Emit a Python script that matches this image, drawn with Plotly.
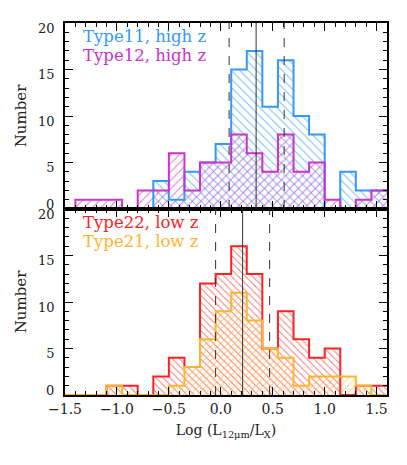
import plotly.graph_objects as go
from plotly.subplots import make_subplots

# bin edges (width 0.15)
bin_edges = [-1.55, -1.4, -1.25, -1.1, -0.95, -0.8, -0.65, -0.5, -0.35, -0.2, -0.05,
             0.1, 0.25, 0.4, 0.55, 0.7, 0.85, 1.0, 1.15, 1.3, 1.45, 1.6]

type11_high = [0, 0, 0, 0, 0, 0, 3, 1, 4, 5, 7, 15, 17, 11, 16, 10, 8, 0, 4, 2, 2]
type12_high = [0, 1, 1, 1, 0, 2, 2, 6, 2, 5, 5, 8, 6, 4, 8, 4, 5, 1, 0, 1, 2]
type22_low = [0, 0, 0, 1, 1, 0, 2, 4, 3, 12, 13, 16, 13, 5, 9, 6, 4, 5, 0, 1, 1]
type21_low = [0, 0, 0, 1, 0, 0, 0, 1, 3, 6, 9, 11, 8, 5, 4, 1, 2, 2, 2, 1, 0]

# median (solid) and spread (dashed) lines
high_lines = [0.08, 0.34, 0.61]
low_lines = [-0.05, 0.21, 0.47]

labels_high = ["Type11, high z", "Type12, high z"]
labels_low = ["Type22, low z", "Type21, low z"]

y_tickvals = [0, 5, 10, 15, 20]
y_ticktext = ["", "5", "10", "15", "20"]
y_zero_label = "0"

BLUE = "#3399ff"
MAGENTA = "#cc33cc"
RED = "#ff2222"
ORANGE = "#ffb52e"

FONT = "DejaVu Serif"
TXT = "#222222"

centers = [(bin_edges[i] + bin_edges[i + 1]) / 2 for i in range(len(bin_edges) - 1)]
width = bin_edges[1] - bin_edges[0]

fig = make_subplots(rows=2, cols=1, shared_xaxes=True, vertical_spacing=0)


def add_hist(counts, color, shape, row, psize):
    fig.add_trace(go.Bar(
        x=centers, y=counts, width=width,
        marker=dict(color=color, line=dict(width=0),
                    pattern=dict(shape=shape, fgcolor=color, bgcolor="rgba(0,0,0,0)",
                                 size=psize, solidity=0.18, fgopacity=0.65)),
        showlegend=False, hoverinfo="skip"), row=row, col=1)


def add_step(counts, color, row):
    xs = list(bin_edges[:-1]) + [bin_edges[-1]]
    ys = list(counts) + [counts[-1]]
    fig.add_trace(go.Scatter(x=xs, y=ys, mode="lines", line_shape="hv",
                             line=dict(color=color, width=2),
                             showlegend=False, hoverinfo="skip"), row=row, col=1)


add_hist(type11_high, BLUE, "\\", 1, 6)
add_hist(type12_high, MAGENTA, "/", 1, 6)
add_hist(type22_low, RED, "\\", 2, 5)
add_hist(type21_low, ORANGE, "/", 2, 5)
add_step(type11_high, BLUE, 1)
add_step(type12_high, MAGENTA, 1)
add_step(type22_low, RED, 2)
add_step(type21_low, ORANGE, 2)

for row, vals in ((1, high_lines), (2, low_lines)):
    for i, v in enumerate(vals):
        fig.add_vline(x=v, row=row, col=1, line_color="#333333", line_width=1,
                      line_dash="solid" if i == 1 else "dash")

# legend texts
for row, labs, cols in ((1, labels_high, (BLUE, MAGENTA)), (2, labels_low, (RED, ORANGE))):
    yref = "y domain" if row == 1 else "y2 domain"
    xref = "x domain" if row == 1 else "x2 domain"
    for j, (lab, c) in enumerate(zip(labs, cols)):
        fig.add_annotation(text=lab, xref=xref, yref=yref, x=0.05, y=0.925 - j * 0.1,
                           xanchor="left", yanchor="middle", showarrow=False,
                           font=dict(family=FONT, size=16.5, color=c))

# zero labels of each panel (drawn slightly above their tick, like the original)
for yref in ("y", "y2"):
    fig.add_annotation(text=y_zero_label, xref="paper", yref=yref, x=0, y=0,
                       xanchor="right", yanchor="middle", xshift=-9, yshift=5,
                       showarrow=False, font=dict(family=FONT, size=13, color=TXT))

# page body has an 8px margin: shrink the figure so the plot area lands where the original's is
fig.update_layout(
    width=399, height=457,
    margin=dict(l=53, r=20, t=15, b=70),
    paper_bgcolor="white", plot_bgcolor="white",
    barmode="overlay", bargap=0,
    font=dict(family=FONT, size=14, color=TXT),
    showlegend=False,
)

axis_common = dict(showline=True, linecolor="black", linewidth=1.5, mirror="ticks",
                   ticks="inside", showgrid=False, zeroline=False, tickcolor="black")

fig.update_xaxes(range=[-1.5, 1.6], dtick=0.5, tick0=0, ticklen=8, tickwidth=1.2,
                 minor=dict(dtick=0.1, tick0=0, ticklen=4, ticks="inside", tickcolor="black", showgrid=False),
                 tickfont=dict(family=FONT, size=14, color=TXT),
                 tickformat=".1f", **axis_common)
fig.update_xaxes(showticklabels=False, row=1, col=1)
fig.update_xaxes(title=dict(text="Log (L<sub>12μm</sub>/L<sub>X</sub>)", font=dict(family=FONT, size=14, color=TXT),
                            standoff=10), row=2, col=1)

fig.update_yaxes(range=[0, 20], tickmode="array", tickvals=y_tickvals, ticktext=y_ticktext,
                 ticklen=8, tickwidth=1.2,
                 minor=dict(dtick=1, tick0=0, ticklen=4, ticks="inside", tickcolor="black", showgrid=False),
                 tickfont=dict(family=FONT, size=13, color=TXT), ticklabelstandoff=6, ticklabelshift=5,
                 title=dict(text="Number", font=dict(family=FONT, size=15, color=TXT), standoff=8),
                 **axis_common)

fig.write_html("out.html")
